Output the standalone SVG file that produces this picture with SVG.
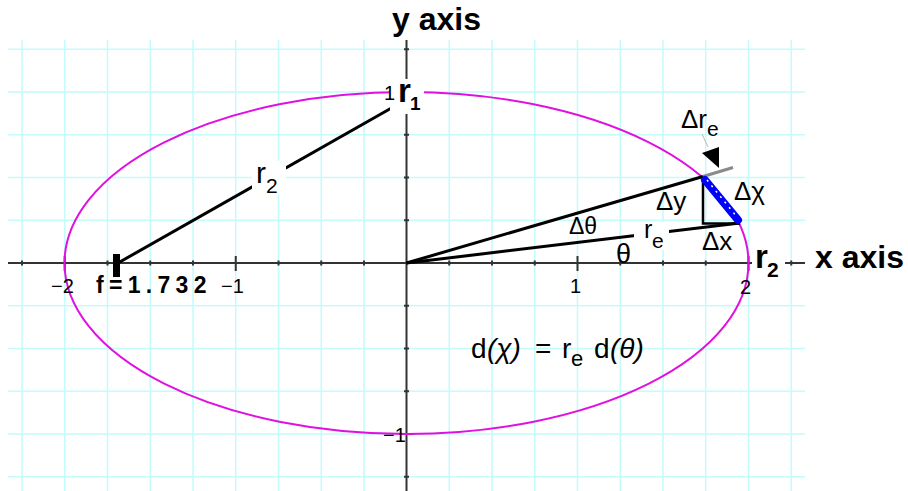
<svg xmlns="http://www.w3.org/2000/svg" width="908" height="491" viewBox="0 0 908 491">
<style>
.grid{stroke:#c4fbfb;stroke-width:1.5;fill:none}
.axis{stroke:#333;stroke-width:2;fill:none}
.tick{stroke:#333;stroke-width:2;fill:none}
.ell{stroke:#e010e0;stroke-width:2;fill:none}
.ln{stroke:#000;stroke-width:3;fill:none;stroke-linecap:butt}
.bg{fill:#fff}
text{font-family:"Liberation Sans",Arial,sans-serif;fill:#000}
.b{font-weight:bold}
.big{font-size:32px;font-weight:bold}
.lab{font-size:26px}
.tk{font-size:20px}
</style>
<rect width="908" height="491" fill="#fff"/>
<g id="grid">
<path class="grid" d="M22 40V491M64.75 40V491M107.5 40V491M150.25 40V491M193 40V491M235.75 40V491M278.5 40V491M321.25 40V491M364 40V491M449.25 40V491M492 40V491M534.75 40V491M577.5 40V491M620.25 40V491M663 40V491M705.75 40V491M748.5 40V491M791.25 40V491"/>
<path class="grid" d="M8 49.25H805M8 92H805M8 134.75H805M8 177.5H805M8 220.25H805M8 305.75H805M8 348.5H805M8 391.25H805M8 434H805M8 476.75H805"/>
</g>
<g id="axes">
<path class="axis" d="M8 263H805M406.5 40V491"/>
<path class="tick" d="M22 260.5V265.5M107.5 260.5V265.5M150.25 260.5V265.5M193 260.5V265.5M278.5 260.5V265.5M321.25 260.5V265.5M364 260.5V265.5M449.25 260.5V265.5M492 260.5V265.5M534.75 260.5V265.5M620.25 260.5V265.5M663 260.5V265.5M705.75 260.5V265.5M791.25 260.5V265.5"/>
<path class="tick" d="M64.75 256V271M235.75 256V271M577.5 256V271M748.5 256V271"/>
<path class="tick" d="M404 49.25H409M404 134.75H409M404 177.5H409M404 220.25H409M404 305.75H409M404 348.5H409M404 391.25H409M404 476.75H409"/>
<path class="tick" d="M399 92H414M399 434H414"/>
</g>
<g id="ellipse">
<ellipse class="ell" cx="406.5" cy="263" rx="342" ry="171"/>
</g>
<g id="connectors">
<line class="ln" x1="118" y1="263" x2="395" y2="106"/>
<line class="ln" x1="406.5" y1="263" x2="703" y2="176.5"/>
<line class="ln" x1="406.5" y1="263" x2="740" y2="223" stroke-width="2.5"/>
<line x1="703" y1="176.5" x2="733" y2="167.5" stroke="#8a8a8a" stroke-width="3"/>
<path d="M703 180V223.5H740" stroke="#000" stroke-width="2.5" fill="none"/>
<line x1="705" y1="180" x2="738" y2="220" stroke="#0000ff" stroke-width="8" stroke-linecap="round"/>
<line x1="707" y1="180" x2="737" y2="217" stroke="#fff" stroke-width="1.5" stroke-dasharray="2 5"/>
<line x1="702" y1="134" x2="708" y2="147" stroke="#bbb" stroke-width="1"/>
<polygon points="702,153 719,147 719,168" fill="#000"/>
<rect x="113" y="254" width="7" height="23" fill="#000"/>
</g>
<g id="node-r1">
<rect class="bg" x="390" y="79" width="34" height="35"/>
<text class="b" x="398" y="102" font-size="33">r</text>
<text class="b" x="410" y="110" font-size="19">1</text>
<text class="tk" x="384" y="100" font-size="17">1</text>
</g>
<g id="node-r2-right">
<rect class="bg" x="752" y="244" width="33" height="38"/>
<text class="b" x="755" y="268" font-size="33">r</text>
<text class="b" x="767" y="277" font-size="21">2</text>
</g>
<g id="node-r2-line">
<rect class="bg" x="252" y="161" width="34" height="34"/>
<text x="256" y="183" font-size="30">r</text>
<text x="266" y="193" font-size="21">2</text>
</g>
<g id="node-re-line">
<rect class="bg" x="634" y="222" width="35" height="28"/>
<text x="644" y="238" font-size="25">r</text>
<text x="652" y="248" font-size="21">e</text>
</g>
<g id="axis-titles">
<text class="big" x="392" y="30">y axis</text>
<text class="big" x="815" y="268">x axis</text>
</g>
<g id="tick-labels">
<text class="tk" x="51" y="293">−2</text>
<text class="tk" x="221" y="293">−1</text>
<text class="tk" x="570" y="293">1</text>
<text class="tk" x="740" y="294">2</text>
<text class="tk" x="383" y="442">−1</text>
</g>
<g id="node-f">
<text class="b" x="96" y="293" font-size="23" letter-spacing="5.3">f=1.732</text>
</g>
<g id="labels">
<text class="lab" x="681" y="128">Δr</text>
<text x="707" y="136" font-size="21">e</text>
<text class="lab" x="734" y="200">Δχ</text>
<text class="lab" x="656" y="210">Δy</text>
<text class="lab" x="702" y="250">Δx</text>
<text x="569" y="234" font-size="23">Δθ</text>
<text x="616" y="263" font-size="27">θ</text>
<text font-size="28" y="358"><tspan x="471">d</tspan><tspan x="487" font-style="italic">(χ)</tspan><tspan x="535">=</tspan><tspan x="562">r</tspan><tspan x="571" dy="8" font-size="22">e</tspan><tspan x="594" dy="-8">d</tspan><tspan x="610" font-style="italic">(θ)</tspan></text>
</g>
</svg>
